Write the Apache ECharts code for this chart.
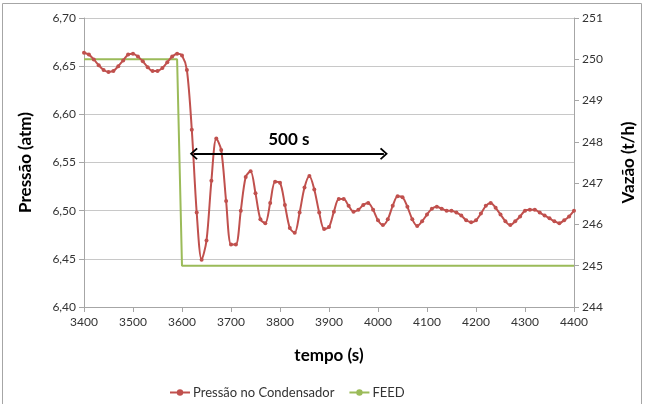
<!DOCTYPE html>
<html>
<head>
<meta charset="utf-8">
<script src="https://cdn.jsdelivr.net/npm/echarts@6/dist/echarts.min.js"></script>
<style>
    html, body { margin: 0; padding: 0; background: #fff; }
    #chart { width: 645px; height: 404px; }
</style>
</head>
<body>
<div id="chart"></div>
<script>
// tempo (s), one reading every 10 s
var times = [3400, 3410, 3420, 3430, 3440, 3450, 3460, 3470, 3480, 3490,
    3500, 3510, 3520, 3530, 3540, 3550, 3560, 3570, 3580, 3590,
    3600, 3610, 3620, 3630, 3640, 3650, 3660, 3670, 3680, 3690,
    3700, 3710, 3720, 3730, 3740, 3750, 3760, 3770, 3780, 3790,
    3800, 3810, 3820, 3830, 3840, 3850, 3860, 3870, 3880, 3890,
    3900, 3910, 3920, 3930, 3940, 3950, 3960, 3970, 3980, 3990,
    4000, 4010, 4020, 4030, 4040, 4050, 4060, 4070, 4080, 4090,
    4100, 4110, 4120, 4130, 4140, 4150, 4160, 4170, 4180, 4190,
    4200, 4210, 4220, 4230, 4240, 4250, 4260, 4270, 4280, 4290,
    4300, 4310, 4320, 4330, 4340, 4350, 4360, 4370, 4380, 4390,
    4400];
// Pressão no Condensador (atm)
var pressure = [6.664, 6.662, 6.657, 6.651, 6.646, 6.644, 6.645, 6.650, 6.656, 6.662,
    6.663, 6.660, 6.655, 6.649, 6.645, 6.645, 6.648, 6.654, 6.660, 6.663,
    6.661, 6.646, 6.584, 6.498, 6.449, 6.469, 6.531, 6.575, 6.563, 6.510,
    6.465, 6.465, 6.500, 6.535, 6.541, 6.518, 6.491, 6.487, 6.508, 6.530,
    6.529, 6.506, 6.482, 6.477, 6.498, 6.524, 6.536, 6.522, 6.498, 6.481,
    6.483, 6.499, 6.512, 6.512, 6.505, 6.499, 6.501, 6.506, 6.508, 6.501,
    6.490, 6.485, 6.491, 6.505, 6.515, 6.514, 6.504, 6.491, 6.484, 6.489,
    6.496, 6.502, 6.504, 6.502, 6.500, 6.500, 6.498, 6.495, 6.490, 6.488,
    6.490, 6.497, 6.505, 6.508, 6.503, 6.496, 6.489, 6.485, 6.489, 6.494,
    6.500, 6.501, 6.501, 6.498, 6.495, 6.492, 6.489, 6.487, 6.490, 6.494,
    6.500];
// FEED (t/h)
var feedTimes = [3400, 3590, 3600, 4400];
var feedValues = [250, 250, 245, 245];
// arrow "500 s"
var arrowStart = [3624, 6.559];
var arrowEnd = [4012, 6.559];
var arrowText = '500 s';

var FONT = 'Lato';
var pressData = times.map(function (t, i) { return [t, pressure[i]]; });
var feedData = feedTimes.map(function (t, i) { return [t, feedValues[i]]; });
var chevron = 'path://M0,10 L10,0 L20,10 L18,12 L10,4 L2,12 Z';

var chart = echarts.init(document.getElementById('chart'));
chart.setOption({
    animation: false,
    textStyle: { fontFamily: FONT },
    graphic: [{
        type: 'rect',
        shape: { x: 2.5, y: 3.5, width: 639, height: 420 },
        style: { fill: 'none', stroke: '#a6a6a6', lineWidth: 1 },
        silent: true
    }],
    grid: { left: 84, right: 71, top: 18, bottom: 97 },
    legend: {
        left: 164,
        top: 381,
        itemGap: 14,
        itemWidth: 20,
        itemHeight: 8,
        textStyle: { fontFamily: FONT, fontSize: 13, color: '#333', padding: [0, 0, 0, -2] },
        data: ['Pressão no Condensador', 'FEED']
    },
    xAxis: {
        type: 'value',
        min: 3400,
        max: 4400,
        interval: 100,
        name: 'tempo (s)',
        nameLocation: 'middle',
        nameGap: 40,
        nameTextStyle: { fontFamily: FONT, fontSize: 17, fontWeight: 'bold', color: '#000' },
        axisLine: { lineStyle: { color: '#a6a6a6' } },
        axisTick: { length: 5, lineStyle: { color: '#a6a6a6' } },
        axisLabel: {
            fontSize: 12, color: '#333', margin: 9,
            formatter: function (v) { return String(v); }
        },
        splitLine: { show: false }
    },
    yAxis: [{
        type: 'value',
        min: 6.40,
        max: 6.70,
        interval: 0.05,
        name: 'Pressão (atm)',
        nameLocation: 'middle',
        nameGap: 50,
        nameTextStyle: { fontFamily: FONT, fontSize: 17, fontWeight: 'bold', color: '#000' },
        axisLine: { show: true, lineStyle: { color: '#a6a6a6' } },
        axisTick: { show: true, length: 5, lineStyle: { color: '#a6a6a6' } },
        axisLabel: {
            fontSize: 12, color: '#333', margin: 8,
            formatter: function (v) { return v.toFixed(2).replace('.', ','); }
        },
        splitLine: { lineStyle: { color: '#c8c8c8' } }
    }, {
        type: 'value',
        min: 244,
        max: 251,
        interval: 1,
        name: 'Vazão (t/h)',
        nameLocation: 'middle',
        nameGap: 46,
        nameRotate: 90,
        nameTextStyle: { fontFamily: FONT, fontSize: 17, fontWeight: 'bold', color: '#000' },
        axisLine: { show: true, lineStyle: { color: '#a6a6a6' } },
        axisTick: { show: true, length: 5, lineStyle: { color: '#a6a6a6' } },
        axisLabel: { fontSize: 12, color: '#333', margin: 8 },
        splitLine: { show: false }
    }],
    series: [{
        name: 'Pressão no Condensador',
        type: 'line',
        yAxisIndex: 0,
        data: pressData,
        smooth: 0.3,
        symbol: 'circle',
        symbolSize: 4,
        showSymbol: true,
        itemStyle: { color: '#c0504d' },
        lineStyle: { color: '#c0504d', width: 2 },
        z: 3,
        markLine: {
            silent: true,
            symbol: [chevron, chevron],
            symbolSize: [12, 8],
            lineStyle: { color: '#000', width: 2, type: 'solid' },
            label: {
                show: true,
                position: 'middle',
                formatter: arrowText,
                fontFamily: FONT,
                fontSize: 17,
                fontWeight: 'bold',
                color: '#000',
                distance: 6
            },
            data: [[{ coord: arrowStart }, { coord: arrowEnd }]]
        }
    }, {
        name: 'FEED',
        type: 'line',
        yAxisIndex: 1,
        data: feedData,
        showSymbol: false,
        symbol: 'none',
        itemStyle: { color: '#9bbb59' },
        lineStyle: { color: '#9bbb59', width: 2 },
        z: 2
    }]
});
</script>
</body>
</html>
